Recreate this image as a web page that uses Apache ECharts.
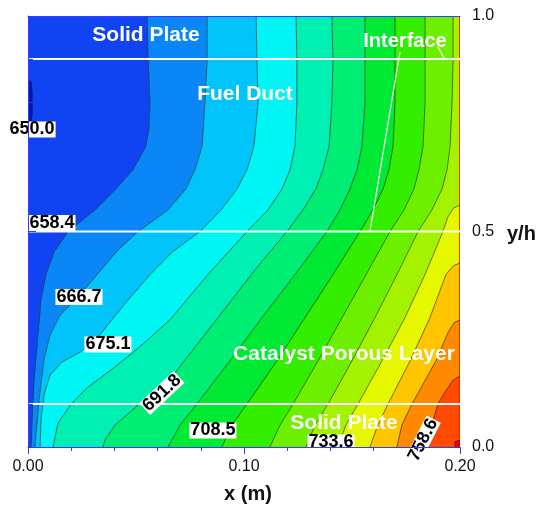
<!DOCTYPE html>
<html><head><meta charset="utf-8">
<script src="https://cdn.jsdelivr.net/npm/echarts@6/dist/echarts.min.js"></script>
<style>html,body{margin:0;padding:0;background:#fff}#c{width:539px;height:506px}</style>
</head><body><div id="c"></div>
<script>
// ---- data ----
const contourLevels = [650.0, 658.4, 666.7, 675.1, 683.5, 691.8, 700.2, 708.5, 716.9, 725.3, 733.6, 742.0, 750.3, 758.6, 767.0];
// band colours: below first level, then between successive levels, then above last
const bandColors = ['#0018c0', '#1043f2', '#0a86f7', '#00c4fa', '#00f6f4', '#00f0b4', '#00ee74', '#00ea34',
                    '#34ee00', '#6cf000', '#a4f200', '#e6f800', '#ffc600', '#ff8a00', '#ff4a00', '#f00000'];
// iso-lines [x (m), y/h]
const iso650 = [[0,0.852],[0.0014,0.847],[0.0019,0.824],[0.0019,0.77],[0.0014,0.756],[0,0.754]];
const iso658 = [[0.0551,1],[0.0556,0.898],[0.0565,0.798],[0.056,0.74],[0.0546,0.698],[0.0486,0.643],[0.0407,0.599],[0.031,0.55],[0.0185,0.5],[0.012,0.452],[0.0083,0.4],[0.006,0.341],[0.0046,0.26],[0.0028,0.155],[0.0019,0.063],[0.0014,0]];
const iso667 = [[0.0829,1],[0.0829,0.898],[0.0819,0.798],[0.0806,0.698],[0.0773,0.643],[0.0731,0.599],[0.0648,0.55],[0.0509,0.5],[0.0417,0.457],[0.0319,0.4],[0.0236,0.35],[0.0148,0.306],[0.0102,0.26],[0.0074,0.202],[0.0051,0.109],[0.0032,0]];
const iso675 = [[0.1056,1],[0.106,0.898],[0.1065,0.798],[0.1046,0.698],[0.1014,0.643],[0.0968,0.599],[0.0894,0.55],[0.0796,0.5],[0.0667,0.452],[0.0565,0.4],[0.0463,0.341],[0.038,0.29],[0.0333,0.26],[0.0241,0.22],[0.0157,0.197],[0.0102,0.167],[0.0074,0.121],[0.006,0.063],[0.0056,0]];
const iso684 = [[0.1241,1],[0.1245,0.898],[0.1245,0.798],[0.1236,0.698],[0.1213,0.643],[0.1176,0.599],[0.1111,0.55],[0.1014,0.5],[0.0843,0.406],[0.0657,0.295],[0.0528,0.237],[0.0403,0.186],[0.0278,0.139],[0.0204,0.102],[0.0139,0.056],[0.0116,0]];
const iso692 = [[0.1407,1],[0.1412,0.898],[0.1407,0.798],[0.1394,0.698],[0.1366,0.643],[0.1333,0.599],[0.1273,0.55],[0.1199,0.5],[0.1051,0.411],[0.0889,0.306],[0.0727,0.202],[0.062,0.132],[0.0509,0.097],[0.0403,0.051],[0.0356,0.016],[0.0347,0]];
const iso700 = [[0.156,1],[0.156,0.898],[0.156,0.798],[0.1546,0.698],[0.1523,0.643],[0.1491,0.599],[0.1444,0.55],[0.1384,0.5],[0.1236,0.4],[0.1083,0.3],[0.0935,0.2],[0.0782,0.1],[0.0704,0.051],[0.0648,0]];
const iso709 = [[0.1699,1],[0.1699,0.898],[0.1699,0.798],[0.169,0.698],[0.1671,0.643],[0.1644,0.599],[0.1597,0.55],[0.1537,0.5],[0.1412,0.4],[0.1282,0.3],[0.1153,0.2],[0.1014,0.1],[0.0944,0.051],[0.0898,0]];
const iso717 = [[0.1838,1],[0.1838,0.898],[0.1838,0.798],[0.1829,0.698],[0.181,0.643],[0.1787,0.599],[0.1741,0.55],[0.1676,0.5],[0.1565,0.4],[0.1454,0.3],[0.1343,0.2],[0.1227,0.1],[0.1167,0.051],[0.112,0]];
const iso725 = [[0.1968,1],[0.1968,0.898],[0.1963,0.798],[0.1954,0.698],[0.194,0.643],[0.1917,0.599],[0.187,0.55],[0.1806,0.5],[0.1708,0.4],[0.1606,0.3],[0.15,0.2],[0.1389,0.1],[0.1329,0.051],[0.1287,0]];
const iso734 = [[0.2,0.561],[0.1972,0.555],[0.1944,0.534],[0.1921,0.5],[0.1838,0.4],[0.1745,0.3],[0.1639,0.2],[0.1528,0.1],[0.1472,0.051],[0.1435,0]];
const iso742 = [[0.2,0.427],[0.1968,0.42],[0.1935,0.4],[0.1861,0.3],[0.1769,0.2],[0.1667,0.1],[0.162,0.051],[0.1583,0]];
const iso750 = [[0.2,0.295],[0.1972,0.288],[0.1944,0.265],[0.1889,0.2],[0.1778,0.1],[0.1731,0.051],[0.1708,0]];
const iso759 = [[0.2,0.165],[0.1968,0.155],[0.1931,0.128],[0.1898,0.1],[0.187,0.051],[0.1856,0]];
const iso767 = [[0.2,0.016],[0.1977,0.012],[0.1977,0]];
const isoLines = [iso650, iso658, iso667, iso675, iso684, iso692, iso700, iso709, iso717, iso725, iso734, iso742, iso750, iso759, iso767];

const layerInterfaces = [0.9, 0.5, 0.1];
const xTickLabels = ['0.00', '0.10', '0.20'];
const yTickLabels = ['0.0', '0.5', '1.0'];
const labelledLevels = [0, 1, 2, 3, 5, 7, 10, 13];

// ---- layout (not data) ----
const X_MAX = 0.2, Y_MAX = 1;
const labelAnchors = [[0.0019,0.7367,0],[0.0111,0.5197,0],[0.0236,0.348,0],[0.037,0.2378,0],[0.062,0.1253,0.75],[0.0856,0.0383,0],[0.1403,0.0104,0],[0.1829,0.0162,1.1]];
const pointerLines = [[[0.1722,0.9165],[0.1583,0.5]],[[0.1898,0.928],[0.1931,0.898]]];

function closeRegion(pts) {
  const poly = pts.slice();
  const last = poly[poly.length - 1];
  if (last[0] <= 0 && last[1] > 0) poly.push([0, 0]);
  poly.push([X_MAX, 0]);
  poly.push([X_MAX, Y_MAX]);
  return poly;
}

const fillItems = [];
for (let k = 0; k <= isoLines.length; k++) fillItems.push([0.1, 0.5, k]);

const chart = echarts.init(document.getElementById('c'));
const axisBlue = '#3838ff';
const font = '"Liberation Sans", Arial, sans-serif';

chart.setOption({
  animation: false,
  backgroundColor: '#fff',
  grid: { left: 28, top: 16, width: 432, height: 431 },
  xAxis: [{
    type: 'value', min: 0, max: X_MAX, interval: 0.1, position: 'bottom', z: 10,
    axisLine: { show: true, lineStyle: { color: axisBlue, width: 1 } },
    axisTick: { show: true, length: 7, lineStyle: { color: axisBlue } },
    minorTick: { show: true, splitNumber: 5, length: 4, lineStyle: { color: axisBlue } },
    splitLine: { show: false },
    axisLabel: { fontSize: 16, color: '#111', margin: 12, fontFamily: font,
      formatter: v => xTickLabels[Math.round(v / 0.1)] }
  }, {
    type: 'value', min: 0, max: X_MAX, position: 'top', z: 10,
    axisLine: { show: true, lineStyle: { color: axisBlue, width: 1 } },
    axisTick: { show: false }, axisLabel: { show: false }, splitLine: { show: false }
  }],
  yAxis: [{
    type: 'value', min: 0, max: Y_MAX, interval: 0.5, position: 'right', z: 10,
    axisLine: { show: true, lineStyle: { color: axisBlue, width: 1 } },
    axisTick: { show: true, length: 8, lineStyle: { color: axisBlue } },
    minorTick: { show: true, splitNumber: 5, length: 5, lineStyle: { color: axisBlue } },
    splitLine: { show: false },
    axisLabel: { fontSize: 16, color: '#111', margin: 12, fontFamily: font,
      formatter: v => yTickLabels[Math.round(v / 0.5)] }
  }],
  series: [{
    type: 'custom', coordinateSystem: 'cartesian2d', clip: true, z: 1,
    data: fillItems, encode: { x: 0, y: 1 },
    renderItem: (params, api) => {
      const k = api.value(2);
      let pts, color;
      if (k === 0) { pts = [[0,0],[X_MAX,0],[X_MAX,Y_MAX],[0,Y_MAX]]; color = bandColors[1]; }
      else if (k === isoLines.length) { pts = isoLines[0]; color = bandColors[0]; }
      else { pts = closeRegion(isoLines[k]); color = bandColors[k + 1]; }
      return { type: 'polygon', shape: { points: pts.map(p => api.coord(p)) },
               style: { fill: color, stroke: color, lineWidth: 0.6 } };
    }
  }, {
    type: 'custom', coordinateSystem: 'cartesian2d', clip: true, z: 2,
    data: isoLines.map((l, i) => [0.1, 0.5, i]), encode: { x: 0, y: 1 },
    renderItem: (params, api) => {
      const k = api.value(2);
      const pts = isoLines[k].map(p => api.coord(p));
      return { type: k === 0 ? 'polygon' : 'polyline', shape: { points: pts },
               style: { fill: null, stroke: '#1c1c1c', lineWidth: 0.7, opacity: 0.85 } };
    }
  }, {
    type: 'custom', coordinateSystem: 'cartesian2d', clip: true, z: 3,
    data: layerInterfaces.map(y => [0.1, y]), encode: { x: 0, y: 1 },
    renderItem: (params, api) => {
      const y = api.value(1);
      const a = api.coord([0, y]), b = api.coord([X_MAX, y]);
      return { type: 'line', shape: { x1: a[0], y1: a[1], x2: b[0], y2: b[1] },
               style: { stroke: '#fff', lineWidth: 2 } };
    }
  }, {
    type: 'custom', coordinateSystem: 'cartesian2d', clip: true, z: 3,
    data: pointerLines.map((l, i) => [0.1, 0.5, i]), encode: { x: 0, y: 1 },
    renderItem: (params, api) => {
      const l = pointerLines[api.value(2)];
      const a = api.coord(l[0]), b = api.coord(l[1]);
      return { type: 'line', shape: { x1: a[0], y1: a[1], x2: b[0], y2: b[1] },
               style: { stroke: '#fff', lineWidth: 1.2 } };
    }
  }, {
    type: 'custom', coordinateSystem: 'cartesian2d', clip: false, z: 5,
    data: labelledLevels.map((lv, i) => [labelAnchors[i][0], labelAnchors[i][1], i]), encode: { x: 0, y: 1 },
    renderItem: (params, api) => {
      const i = api.value(2);
      const p = api.coord([api.value(0), api.value(1)]);
      return { type: 'text', x: p[0], y: p[1], rotation: labelAnchors[i][2],
        style: { text: contourLevels[labelledLevels[i]].toFixed(1), font: 'bold 18px ' + font, fill: '#000',
                 backgroundColor: '#fff', padding: [1, 1, 0, 1], align: 'center', verticalAlign: 'middle', lineHeight: 15 } };
    }
  }],
  graphic: [
    { type: 'text', z: 20, style: { text: 'Solid Plate', x: 146, y: 35, align: 'center', verticalAlign: 'middle', fill: '#fff', font: 'bold 21px ' + font } },
    { type: 'text', z: 20, style: { text: 'Fuel Duct', x: 245, y: 94, align: 'center', verticalAlign: 'middle', fill: '#fff', font: 'bold 21px ' + font } },
    { type: 'text', z: 20, style: { text: 'Interface', x: 405, y: 41, align: 'center', verticalAlign: 'middle', fill: '#fff', font: 'bold 20px ' + font } },
    { type: 'text', z: 20, style: { text: 'Catalyst Porous Layer', x: 344, y: 354, align: 'center', verticalAlign: 'middle', fill: '#fff', font: 'bold 21px ' + font } },
    { type: 'text', z: 20, style: { text: 'Solid Plate', x: 344, y: 423, align: 'center', verticalAlign: 'middle', fill: '#fff', font: 'bold 21px ' + font } },
    { type: 'text', z: 20, style: { text: 'y/h', x: 507, y: 234, align: 'left', verticalAlign: 'middle', fill: '#111', font: 'bold 20px ' + font } },
    { type: 'text', z: 20, style: { text: 'x (m)', x: 248, y: 494, align: 'center', verticalAlign: 'middle', fill: '#111', font: 'bold 20px ' + font } }
  ]
});
</script></body></html>
